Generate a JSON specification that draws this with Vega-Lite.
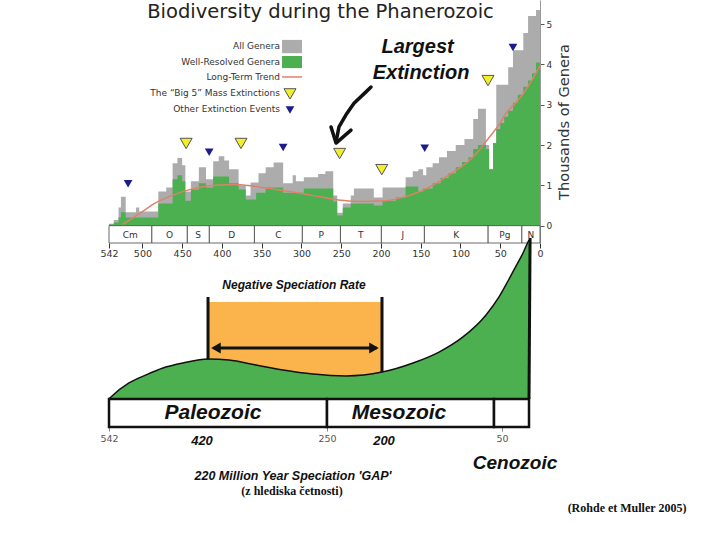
{
  "$schema": "https://vega.github.io/schema/vega-lite/v6.json",
  "background": "white",
  "padding": {"left": 99, "top": 0, "right": 0, "bottom": 0},
  "spacing": 16,
  "bounds": "flush",
  "config": {"view": {"stroke": null}, "font": "DejaVu Sans"},
  "vconcat": [
    {
      "width": 431,
      "height": 243,
      "encoding": {
        "x": {"field": "ma", "type": "quantitative",
          "scale": {"domain": [0, 542], "reverse": true, "nice": false, "zero": false},
          "axis": {"values": [542, 500, 450, 400, 350, 300, 250, 200, 150, 100, 50, 0], "title": null, "grid": false, "domain": false,
            "labelFontSize": 9.5, "labelFont": "DejaVu Sans", "labelColor": "#333", "tickSize": 5, "tickColor": "#333", "labelPadding": 0, "labelFlush": false}},
        "y": {"field": "g", "type": "quantitative",
          "scale": {"domain": [-0.43, 5.6], "nice": false, "zero": false},
          "axis": {"orient": "right", "values": [0, 1, 2, 3, 4, 5], "title": "Thousands of Genera", "grid": false,
            "titleFontSize": 14.6, "titleFont": "DejaVu Sans", "titleFontWeight": "normal", "titleColor": "#333", "titleAngle": 270, "titleBaseline": "top", "titlePadding": 5,
            "labelFontSize": 9, "labelFont": "DejaVu Sans", "labelColor": "#333", "tickSize": 4, "tickColor": "#555", "domainColor": "#999"}}
      },
      "layer": [
        {
          "data": {"values": [
            {"ma": 0, "g": 5.35}, {"ma": 5, "g": 5.2}, {"ma": 15, "g": 4.78}, {"ma": 21, "g": 4.35}, {"ma": 34, "g": 3.93},
            {"ma": 40, "g": 3.5}, {"ma": 55, "g": 2.05}, {"ma": 59, "g": 1.4}, {"ma": 64, "g": 2.0}, {"ma": 68, "g": 2.9},
            {"ma": 78, "g": 2.65}, {"ma": 84, "g": 2.15}, {"ma": 95, "g": 2.0}, {"ma": 106, "g": 1.85}, {"ma": 117, "g": 1.7},
            {"ma": 127, "g": 1.55}, {"ma": 135, "g": 1.45}, {"ma": 143, "g": 1.25}, {"ma": 147, "g": 1.4}, {"ma": 153, "g": 1.35},
            {"ma": 160, "g": 1.2}, {"ma": 169, "g": 0.95}, {"ma": 198, "g": 0.7}, {"ma": 209, "g": 0.92}, {"ma": 234, "g": 0.75},
            {"ma": 238, "g": 0.55}, {"ma": 248, "g": 0.32}, {"ma": 255, "g": 0.75}, {"ma": 260, "g": 1.35}, {"ma": 270, "g": 1.28},
            {"ma": 279, "g": 1.2}, {"ma": 297, "g": 1.1}, {"ma": 307, "g": 1.25}, {"ma": 311, "g": 1.05}, {"ma": 323, "g": 1.57},
            {"ma": 335, "g": 1.45}, {"ma": 345, "g": 1.3}, {"ma": 354, "g": 1.07}, {"ma": 364, "g": 0.75}, {"ma": 370, "g": 1.0},
            {"ma": 379, "g": 1.4}, {"ma": 391, "g": 1.62}, {"ma": 397, "g": 1.72}, {"ma": 404, "g": 1.6}, {"ma": 411, "g": 1.15},
            {"ma": 420, "g": 1.45}, {"ma": 429, "g": 1.1}, {"ma": 439, "g": 0.85}, {"ma": 446, "g": 1.5}, {"ma": 450, "g": 1.68},
            {"ma": 456, "g": 1.55}, {"ma": 462, "g": 0.95}, {"ma": 470, "g": 0.85}, {"ma": 480, "g": 0.35}, {"ma": 504, "g": 0.45},
            {"ma": 508, "g": 0.33}, {"ma": 521, "g": 0.72}, {"ma": 527, "g": 0.45}, {"ma": 530, "g": 0.14}, {"ma": 536, "g": 0.05},
            {"ma": 542, "g": 0.05}
          ]},
          "mark": {"type": "area", "interpolate": "step-before", "color": "#acacac"},
          "encoding": {"y2": {"datum": 0}}
        },
        {
          "data": {"values": [
            {"ma": 0, "g": 4.05}, {"ma": 5, "g": 3.78}, {"ma": 10, "g": 3.6}, {"ma": 15, "g": 3.45}, {"ma": 21, "g": 3.25},
            {"ma": 28, "g": 3.05}, {"ma": 34, "g": 2.85}, {"ma": 40, "g": 2.7}, {"ma": 45, "g": 2.55}, {"ma": 50, "g": 2.4},
            {"ma": 55, "g": 2.05}, {"ma": 59, "g": 1.4}, {"ma": 64, "g": 1.9}, {"ma": 68, "g": 2.0}, {"ma": 78, "g": 1.9},
            {"ma": 84, "g": 1.7}, {"ma": 90, "g": 1.58}, {"ma": 98, "g": 1.45}, {"ma": 106, "g": 1.3}, {"ma": 115, "g": 1.18},
            {"ma": 125, "g": 1.05}, {"ma": 135, "g": 0.92}, {"ma": 147, "g": 0.85}, {"ma": 153, "g": 0.97}, {"ma": 169, "g": 0.7},
            {"ma": 181, "g": 0.62}, {"ma": 198, "g": 0.5}, {"ma": 209, "g": 0.55}, {"ma": 238, "g": 0.45}, {"ma": 248, "g": 0.25},
            {"ma": 255, "g": 0.6}, {"ma": 260, "g": 0.92}, {"ma": 297, "g": 0.82}, {"ma": 323, "g": 0.95}, {"ma": 345, "g": 0.82},
            {"ma": 357, "g": 0.65}, {"ma": 370, "g": 0.9}, {"ma": 379, "g": 1.05}, {"ma": 391, "g": 1.22}, {"ma": 411, "g": 0.95},
            {"ma": 420, "g": 1.05}, {"ma": 429, "g": 0.9}, {"ma": 439, "g": 0.62}, {"ma": 446, "g": 1.1}, {"ma": 450, "g": 1.25},
            {"ma": 456, "g": 1.15}, {"ma": 462, "g": 0.55}, {"ma": 480, "g": 0.2}, {"ma": 521, "g": 0.33}, {"ma": 527, "g": 0.2},
            {"ma": 530, "g": 0.08}, {"ma": 536, "g": 0.03}, {"ma": 542, "g": 0.03}
          ]},
          "mark": {"type": "area", "interpolate": "step-before", "color": "#4caf50"},
          "encoding": {"y2": {"datum": 0}}
        },
        {
          "data": {"values": [
            {"ma": 0, "g": 3.97}, {"ma": 12, "g": 3.55}, {"ma": 24, "g": 3.2}, {"ma": 33, "g": 3.0}, {"ma": 43, "g": 2.78},
            {"ma": 50, "g": 2.55}, {"ma": 64, "g": 2.19}, {"ma": 80, "g": 1.79}, {"ma": 90, "g": 1.6}, {"ma": 106, "g": 1.37},
            {"ma": 125, "g": 1.12}, {"ma": 143, "g": 0.92}, {"ma": 160, "g": 0.78}, {"ma": 175, "g": 0.69}, {"ma": 200, "g": 0.61},
            {"ma": 225, "g": 0.6}, {"ma": 250, "g": 0.63}, {"ma": 275, "g": 0.71}, {"ma": 300, "g": 0.8}, {"ma": 320, "g": 0.86},
            {"ma": 340, "g": 0.92}, {"ma": 364, "g": 0.99}, {"ma": 386, "g": 1.02}, {"ma": 400, "g": 1.01}, {"ma": 420, "g": 0.98},
            {"ma": 445, "g": 0.87}, {"ma": 460, "g": 0.77}, {"ma": 483, "g": 0.57}, {"ma": 500, "g": 0.35}, {"ma": 510, "g": 0.22},
            {"ma": 525, "g": 0.03}
          ]},
          "mark": {"type": "line", "interpolate": "monotone", "color": "#e0806a", "strokeWidth": 1.5}
        },
        {
          "data": {"values": [
            {"ma": 0, "ma2": 23, "g": 0, "g2": -0.43, "gl": -0.22, "label": "N"},
            {"ma": 23, "ma2": 65.5, "g": 0, "g2": -0.43, "gl": -0.22, "label": "Pg"},
            {"ma": 65.5, "ma2": 145.5, "g": 0, "g2": -0.43, "gl": -0.22, "label": "K"},
            {"ma": 145.5, "ma2": 199.6, "g": 0, "g2": -0.43, "gl": -0.22, "label": "J"},
            {"ma": 199.6, "ma2": 251, "g": 0, "g2": -0.43, "gl": -0.22, "label": "T"},
            {"ma": 251, "ma2": 299, "g": 0, "g2": -0.43, "gl": -0.22, "label": "P"},
            {"ma": 299, "ma2": 359.2, "g": 0, "g2": -0.43, "gl": -0.22, "label": "C"},
            {"ma": 359.2, "ma2": 416, "g": 0, "g2": -0.43, "gl": -0.22, "label": "D"},
            {"ma": 416, "ma2": 443.7, "g": 0, "g2": -0.43, "gl": -0.22, "label": "S"},
            {"ma": 443.7, "ma2": 488.3, "g": 0, "g2": -0.43, "gl": -0.22, "label": "O"},
            {"ma": 488.3, "ma2": 542, "g": 0, "g2": -0.43, "gl": -0.22, "label": "Cm"}
          ]},
          "layer": [
            {
              "mark": {"type": "rect", "fill": "white", "stroke": "#444", "strokeWidth": 0.8},
              "encoding": {"x2": {"field": "ma2"}, "y2": {"field": "g2"}}
            },
            {
              "transform": [{"calculate": "(datum.ma + datum.ma2) / 2", "as": "mid"}],
              "mark": {"type": "text", "font": "DejaVu Sans", "fontSize": 9, "color": "#333", "baseline": "middle", "align": "center"},
              "encoding": {"x": {"field": "mid", "type": "quantitative"}, "y": {"field": "gl", "type": "quantitative"}, "text": {"field": "label"}}
            }
          ]
        },
        {
          "data": {"values": [
            {"ma": 445, "g": 2.04}, {"ma": 376, "g": 2.04}, {"ma": 252, "g": 1.79}, {"ma": 199, "g": 1.39}, {"ma": 65.4, "g": 3.6}
          ]},
          "mark": {"type": "point", "shape": "triangle-down", "filled": true, "fill": "#f2ee2a", "stroke": "#555", "strokeWidth": 1, "size": 144, "opacity": 1}
        },
        {
          "data": {"values": [
            {"ma": 518, "g": 1.04}, {"ma": 416, "g": 1.82}, {"ma": 323, "g": 1.94}, {"ma": 145, "g": 1.92}, {"ma": 34, "g": 4.42}
          ]},
          "mark": {"type": "point", "shape": "triangle-down", "filled": true, "fill": "#1c1c8c", "strokeWidth": 0, "size": 76, "opacity": 1}
        },
        {
          "data": {"values": [
            {"ma": 324.4, "ma2": 299.3, "g": 4.61, "g2": 4.28, "k": "All Genera"},
            {"ma": 324.4, "ma2": 299.3, "g": 4.21, "g2": 3.91, "k": "Well-Resolved Genera"}
          ]},
          "mark": {"type": "rect"},
          "encoding": {"x2": {"field": "ma2"}, "y2": {"field": "g2"},
            "color": {"field": "k", "type": "nominal", "scale": {"domain": ["All Genera", "Well-Resolved Genera"], "range": ["#acacac", "#4caf50"]}, "legend": null}}
        },
        {
          "data": {"values": [{"ma": 324.4, "ma2": 299.3, "g": 3.69}]},
          "mark": {"type": "rule", "color": "#e0806a", "strokeWidth": 1.5},
          "encoding": {"x2": {"field": "ma2"}}
        },
        {
          "data": {"values": [{"ma": 314.4, "g": 3.27}]},
          "mark": {"type": "point", "shape": "triangle-down", "filled": true, "fill": "#f2ee2a", "stroke": "#555", "strokeWidth": 1, "size": 144, "opacity": 1}
        },
        {
          "data": {"values": [{"ma": 314.4, "g": 2.87}]},
          "mark": {"type": "point", "shape": "triangle-down", "filled": true, "fill": "#1c1c8c", "strokeWidth": 0, "size": 76, "opacity": 1}
        },
        {
          "data": {"values": [
            {"ma": 327, "g": 4.46, "label": "All Genera"},
            {"ma": 327, "g": 4.06, "label": "Well-Resolved Genera"},
            {"ma": 327, "g": 3.69, "label": "Long-Term Trend"},
            {"ma": 327, "g": 3.29, "label": "The “Big 5” Mass Extinctions"},
            {"ma": 327, "g": 2.9, "label": "Other Extinction Events"}
          ]},
          "mark": {"type": "text", "font": "DejaVu Sans", "fontSize": 9, "color": "#333", "align": "right", "baseline": "middle"},
          "encoding": {"text": {"field": "label"}}
        },
        {
          "data": {"values": [{"ma": 276, "g": 5.29, "label": "Biodiversity during the Phanerozoic"}]},
          "mark": {"type": "text", "font": "DejaVu Sans", "fontSize": 19.5, "color": "#222", "align": "center", "baseline": "middle"},
          "encoding": {"text": {"field": "label"}}
        },
        {
          "data": {"values": [
            {"ma": 154, "g": 4.43, "label": "Largest"},
            {"ma": 149.6, "g": 3.78, "label": "Extinction"}
          ]},
          "mark": {"type": "text", "font": "Liberation Sans", "fontStyle": "italic", "fontWeight": "bold", "fontSize": 20, "color": "#111", "align": "center", "baseline": "middle"},
          "encoding": {"text": {"field": "label"}}
        },
        {
          "data": {"values": [
            {"seg": "a", "i": 0, "ma": 212.5, "g": 3.44},
            {"seg": "a", "i": 1, "ma": 218.8, "g": 3.32},
            {"seg": "a", "i": 2, "ma": 233.9, "g": 3.04},
            {"seg": "a", "i": 3, "ma": 244.0, "g": 2.75},
            {"seg": "a", "i": 4, "ma": 252.8, "g": 2.45},
            {"seg": "a", "i": 5, "ma": 256.5, "g": 2.08},
            {"seg": "b", "i": 0, "ma": 262.8, "g": 2.45},
            {"seg": "b", "i": 1, "ma": 256.5, "g": 2.05},
            {"seg": "b", "i": 2, "ma": 237.7, "g": 2.37}
          ]},
          "mark": {"type": "line", "color": "#111", "strokeWidth": 3.5, "strokeCap": "round", "strokeJoin": "round"},
          "encoding": {"detail": {"field": "seg"}, "order": {"field": "i", "type": "quantitative"}}
        }
      ]
    },
    {
      "width": 431,
      "height": 168,
      "encoding": {
        "x": {"field": "t", "type": "quantitative",
          "scale": {"type": "linear", "domain": [0, 65, 200, 250, 420, 542], "range": [420, 385, 273, 218, 93, 0], "nice": false, "zero": false},
          "axis": {"values": [542, 250, 50], "title": null, "grid": false, "domain": false, "labelFontSize": 9.5, "labelFont": "DejaVu Sans",
            "labelColor": "#555", "tickSize": 4, "tickColor": "#888", "labelPadding": 2, "labelFlush": false}},
        "y": {"field": "u", "type": "quantitative", "scale": {"domain": [0, 100], "nice": false, "zero": false}, "axis": null}
      },
      "layer": [
        {
          "data": {"values": [{"t": 411.8, "t2": 200, "u": 74.4, "u2": 25}]},
          "mark": {"type": "rect", "color": "#fab44b"},
          "encoding": {"x2": {"field": "t2"}, "y2": {"field": "u2"}}
        },
        {
          "data": {"values": [
            {"t": 542, "u": 16.7}, {"t": 539.4, "u": 17.9}, {"t": 515.8, "u": 26.2}, {"t": 493.5, "u": 31.0}, {"t": 471.2, "u": 35.1},
            {"t": 445, "u": 38.1}, {"t": 411.8, "u": 40.5}, {"t": 383.3, "u": 39.9}, {"t": 346.6, "u": 36.9}, {"t": 309.8, "u": 33.9},
            {"t": 269, "u": 31.5}, {"t": 232.7, "u": 30.4}, {"t": 200, "u": 32.7}, {"t": 162.6, "u": 38.1}, {"t": 131.3, "u": 44.6},
            {"t": 102.4, "u": 53.6}, {"t": 74.6, "u": 66.7}, {"t": 55.7, "u": 77.4}, {"t": 39, "u": 86.9}, {"t": 24.1, "u": 95.8},
            {"t": 11.1, "u": 103.6}, {"t": 1.9, "u": 110.1}, {"t": 0, "u": 111.3}
          ]},
          "layer": [
            {"mark": {"type": "area", "interpolate": "monotone", "color": "#4caf50"}, "encoding": {"y2": {"datum": 16.7}}},
            {"mark": {"type": "line", "interpolate": "monotone", "color": "#111", "strokeWidth": 1.5}}
          ]
        },
        {
          "data": {"values": [
            {"t": 542, "t2": 250, "u": 16.7, "u2": 0, "ul": 8.3, "c": 405, "label": "Paleozoic"},
            {"t": 250, "t2": 65, "u": 16.7, "u2": 0, "ul": 8.3, "c": 179.5, "label": "Mesozoic"},
            {"t": 65, "t2": 0, "u": 16.7, "u2": 0, "ul": 8.3, "c": 32, "label": ""}
          ]},
          "layer": [
            {
              "mark": {"type": "rect", "fill": "white", "stroke": "#111", "strokeWidth": 2.5},
              "encoding": {"x2": {"field": "t2"}, "y2": {"field": "u2"}}
            },
            {
              "mark": {"type": "text", "font": "Liberation Sans", "fontStyle": "italic", "fontWeight": "bold", "fontSize": 21, "color": "#111", "align": "center", "baseline": "middle"},
              "encoding": {"x": {"field": "c", "type": "quantitative"}, "y": {"field": "ul", "type": "quantitative"}, "text": {"field": "label"}}
            }
          ]
        },
        {
          "data": {"values": [
            {"t": 411.8, "t2": 411.8, "u": 77.4, "u2": 40.2},
            {"t": 200, "t2": 200, "u": 77.4, "u2": 32.7},
            {"t": -2, "t2": 0, "u": 112.5, "u2": 16.7},
            {"t": 404, "t2": 205, "u": 47, "u2": 47}
          ]},
          "mark": {"type": "rule", "color": "#111", "strokeWidth": 3},
          "encoding": {"x2": {"field": "t2"}, "y2": {"field": "u2"}}
        },
        {
          "data": {"values": [
            {"t": 401, "u": 47, "dir": "left"},
            {"t": 207.3, "u": 47, "dir": "right"}
          ]},
          "mark": {"type": "point", "filled": true, "color": "#111", "size": 121, "opacity": 1},
          "encoding": {"shape": {"field": "dir", "type": "nominal", "scale": {"domain": ["left", "right"], "range": ["triangle-left", "triangle-right"]}, "legend": null}}
        },
        {
          "data": {"values": [{"t": 294.9, "u": 84.5, "label": "Negative Speciation Rate"}]},
          "mark": {"type": "text", "font": "Liberation Sans", "fontStyle": "italic", "fontWeight": "bold", "fontSize": 12, "color": "#111", "align": "center", "baseline": "middle"},
          "encoding": {"text": {"field": "label"}}
        },
        {
          "data": {"values": [
            {"t": 420, "u": -8.3, "label": "420"},
            {"t": 197.6, "u": -8.3, "label": "200"}
          ]},
          "mark": {"type": "text", "font": "Liberation Sans", "fontStyle": "italic", "fontWeight": "bold", "fontSize": 13, "color": "#111", "align": "center", "baseline": "middle"},
          "encoding": {"text": {"field": "label"}}
        },
        {
          "data": {"values": [{"t": 26, "u": -21.4, "label": "Cenozoic"}]},
          "mark": {"type": "text", "font": "Liberation Sans", "fontStyle": "italic", "fontWeight": "bold", "fontSize": 19, "color": "#111", "align": "center", "baseline": "middle"},
          "encoding": {"text": {"field": "label"}}
        },
        {
          "data": {"values": [{"t": 296.2, "u": -29.2, "label": "220 Million Year Speciation 'GAP'"}]},
          "mark": {"type": "text", "font": "Liberation Sans", "fontStyle": "italic", "fontWeight": "bold", "fontSize": 12.5, "color": "#111", "align": "center", "baseline": "middle"},
          "encoding": {"text": {"field": "label"}}
        },
        {
          "data": {"values": [
            {"t": 297.6, "u": -38.1, "label": "(z hlediska četnosti)"},
            {"t": -182, "u": -48.2, "label": "(Rohde et Muller 2005)"}
          ]},
          "mark": {"type": "text", "font": "Liberation Serif", "fontWeight": "bold", "fontSize": 12, "color": "#111", "align": "center", "baseline": "middle"},
          "encoding": {"text": {"field": "label"}}
        }
      ]
    }
  ]
}
